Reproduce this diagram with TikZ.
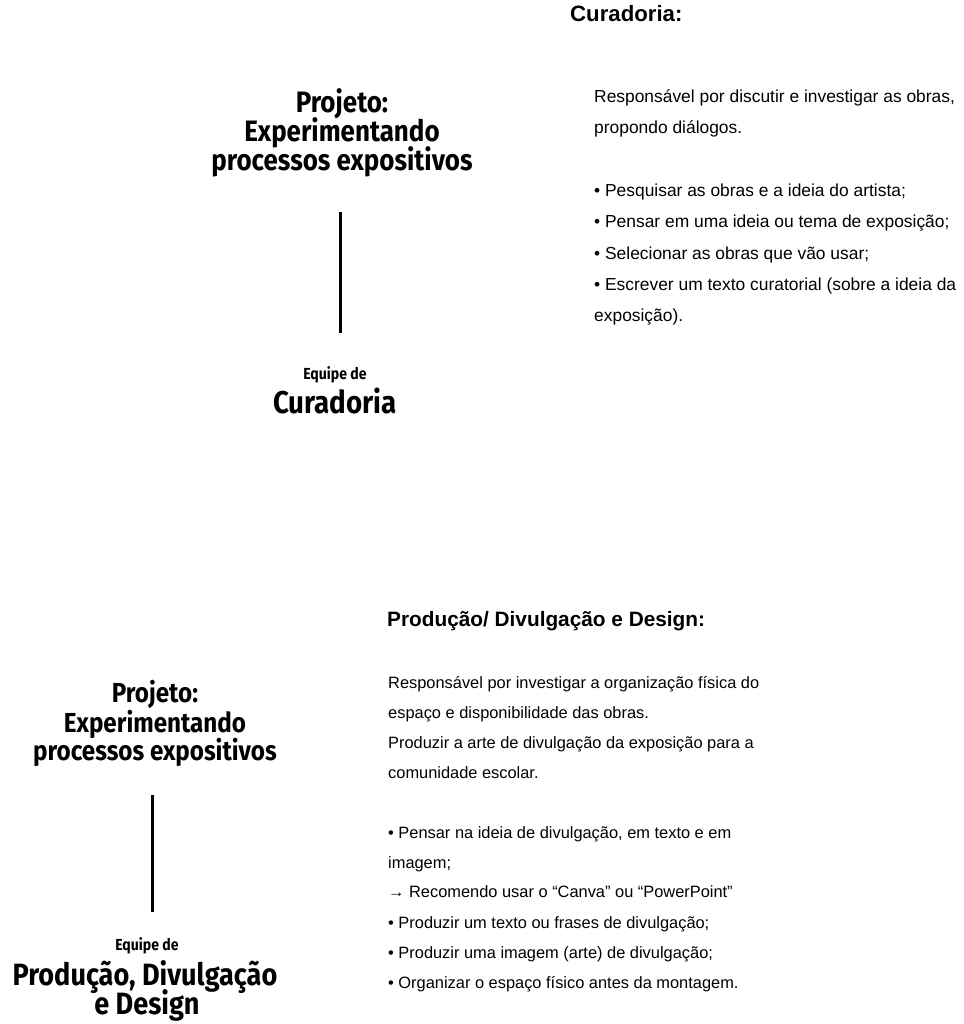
\documentclass[tikz,border=0pt]{standalone}
\usepackage{fontspec}
\setmainfont{Liberation Sans}
\newfontfamily\hf[FakeStretch=0.88]{Fira Sans}
\begin{document}
\begin{tikzpicture}[x=1pt,y=-1pt,
  body/.style={anchor=base west,inner sep=0pt,font=\fontsize{16.4}{20}\selectfont},
  bodyt/.style={anchor=base west,inner sep=0pt,font=\fontsize{17.4}{20}\selectfont},
  head/.style={anchor=base west,inner sep=0pt,font=\fontsize{20.8}{24}\selectfont\bfseries},
  headt/.style={anchor=base west,inner sep=0pt,font=\fontsize{22.2}{24}\selectfont\bfseries},
  ttl/.style={anchor=base,inner sep=0pt,font=\hf\bfseries\fontsize{29.5}{30}\selectfont},
  ttlb/.style={anchor=base,inner sep=0pt,font=\hf\bfseries\fontsize{27.5}{28}\selectfont},
  eq/.style={anchor=base,inner sep=0pt,font=\hf\bfseries\fontsize{16}{16}\selectfont},
  big/.style={anchor=base,inner sep=0pt,font=\hf\bfseries\fontsize{31.5}{32}\selectfont},
  bigb/.style={anchor=base,inner sep=0pt,font=\hf\bfseries\fontsize{30.8}{32}\selectfont},
  bar/.style={line width=3pt}]
\useasboundingbox (0,0) rectangle (963,1024);
% top section
\node[headt] (h1) at (570,22) {Curadoria:};
\node[bodyt] (a1) at (594,103) {Responsável por discutir e investigar as obras,};
\node[bodyt] (a2) at (594,134) {propondo diálogos.};
\node[bodyt] (a3) at (594,197) {• Pesquisar as obras e a ideia do artista;};
\node[bodyt] (a4) at (594,228) {• Pensar em uma ideia ou tema de exposição;};
\node[bodyt] (a5) at (594,259) {• Selecionar as obras que vão usar;};
\node[bodyt] (a6) at (594,290) {• Escrever um texto curatorial (sobre a ideia da};
\node[bodyt] (a7) at (594,321) {exposição).};
\node[ttl] (t1a) at (342,113) {Projeto:};
\node[ttl] (t1b) at (342,142) {Experimentando};
\node[ttl] (t1c) at (342,171) {processos expositivos};
\coordinate (l1a) at (340,212);
\coordinate (l1b) at (340,333);
\draw[bar] (l1a) -- (l1b);
\node[eq] (e1) at (335,379) {Equipe de};
\node[big] (c1) at (335,413) {Curadoria};
% bottom section
\node[head] (h2) at (387,626) {Produção/ Divulgação e Design:};
\node[body] (b1) at (388,688) {Responsável por investigar a organização física do};
\node[body] (b2) at (388,718) {espaço e disponibilidade das obras.};
\node[body] (b3) at (388,748) {Produzir a arte de divulgação da exposição para a};
\node[body] (b4) at (388,778) {comunidade escolar.};
\node[body] (b5) at (388,838) {• Pensar na ideia de divulgação, em texto e em};
\node[body] (b6) at (388,868) {imagem;};
\node[body] (b7) at (388,897) {→ Recomendo usar o “Canva” ou “PowerPoint”};
\node[body] (b8) at (388,928) {• Produzir um texto ou frases de divulgação;};
\node[body] (b9) at (388,958) {• Produzir uma imagem (arte) de divulgação;};
\node[body] (b10) at (388,988) {• Organizar o espaço físico antes da montagem.};
\node[ttlb] (t2a) at (155,702) {Projeto:};
\node[ttlb] (t2b) at (155,732) {Experimentando};
\node[ttlb] (t2c) at (155,760) {processos expositivos};
\coordinate (l2a) at (152,795);
\coordinate (l2b) at (152,912);
\draw[bar] (l2a) -- (l2b);
\node[eq] (e2) at (147,950) {Equipe de};
\node[bigb] (p2a) at (145,985) {Produção, Divulgação};
\node[bigb] (p2b) at (147,1014) {e Design};
\end{tikzpicture}
\end{document}
